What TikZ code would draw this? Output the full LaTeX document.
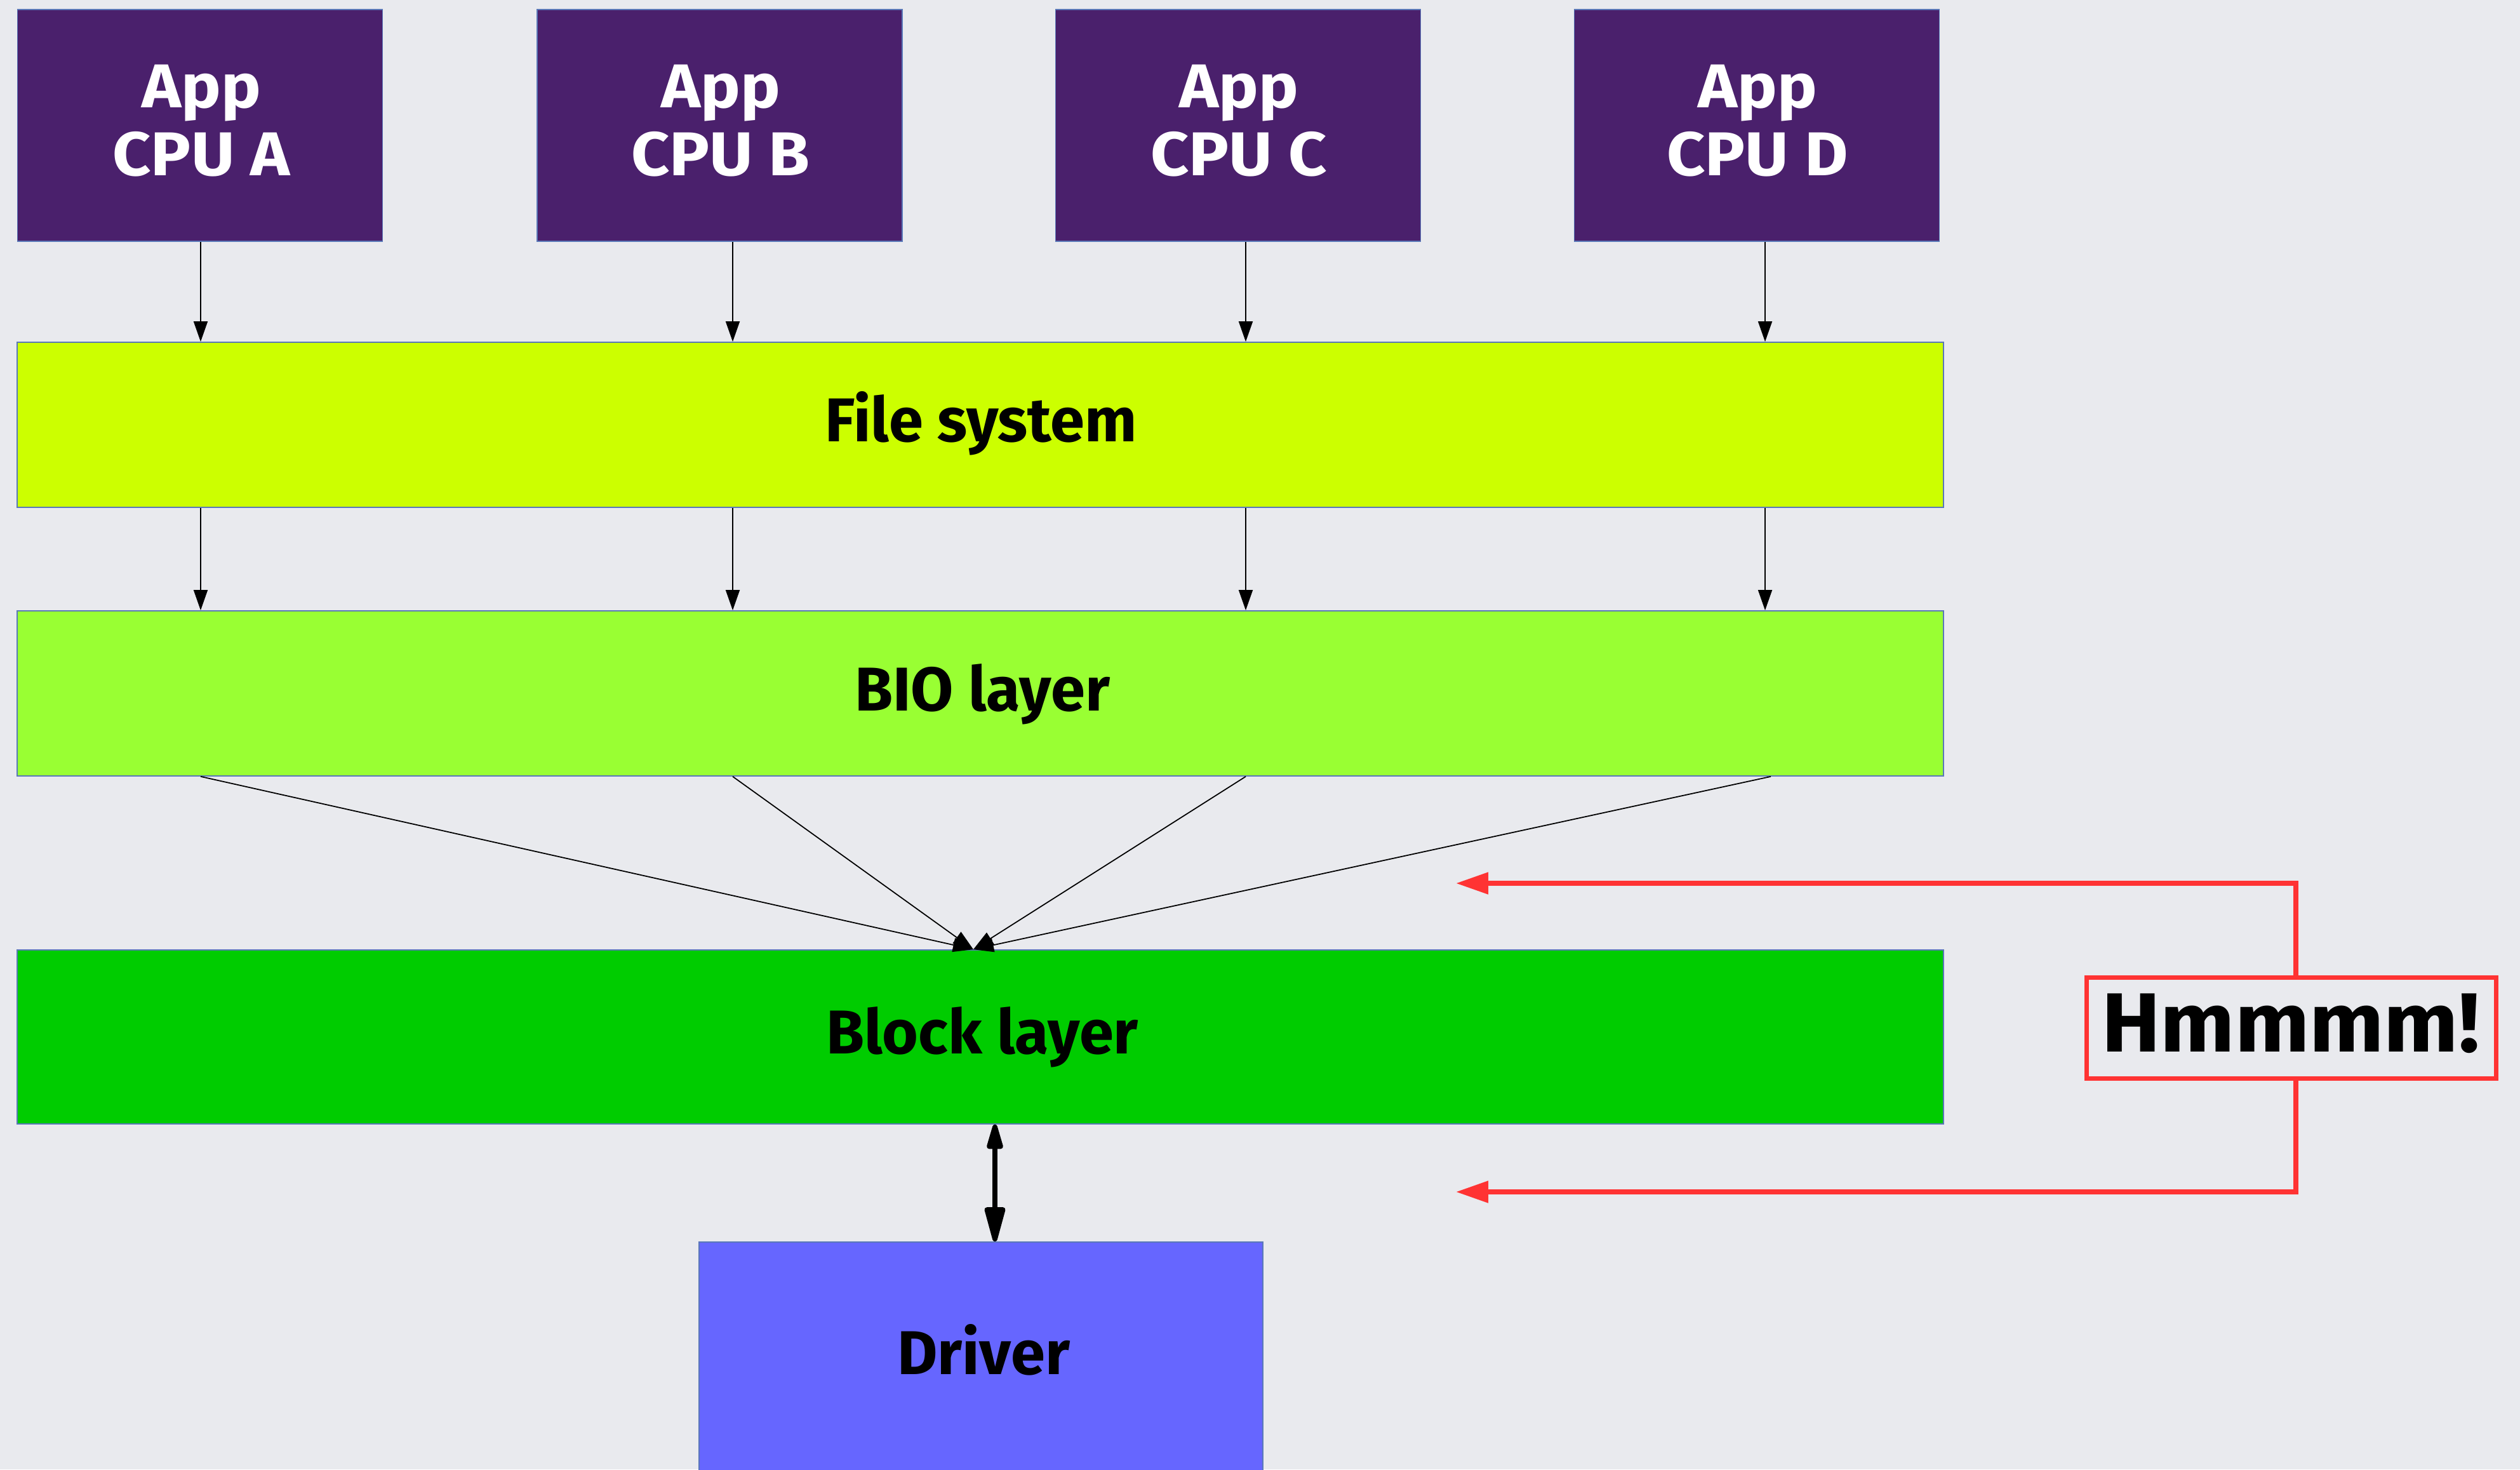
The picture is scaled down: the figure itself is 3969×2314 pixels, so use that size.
\documentclass[tikz,border=0pt]{standalone}
\usepackage{fontspec}
\setmainfont{Fira Sans}
\usetikzlibrary{arrows.meta}
\definecolor{bgcol}{HTML}{E9EAEE}
\definecolor{cpucol}{HTML}{4A206C}
\definecolor{fscol}{HTML}{CCFF00}
\definecolor{biocol}{HTML}{99FF33}
\definecolor{blkcol}{HTML}{00CC00}
\definecolor{drvcol}{HTML}{6666FF}
\definecolor{hmred}{HTML}{FF3333}
\definecolor{edgecol}{HTML}{5A78B8}
\begin{document}
\begin{tikzpicture}[x=0.01cm,y=-0.01cm,
  box/.style={rectangle,draw=edgecol,line width=0.45pt,inner sep=0pt},
  cpubox/.style={box,fill=cpucol,minimum width=5.75cm,minimum height=3.65cm},
  layer/.style={box,minimum width=30.32cm},
  lbl/.style={font=\fontsize{27.7}{30.2}\selectfont\bfseries,align=center,inner sep=0pt},
  cpulbl/.style={lbl,text=white,font=\fontsize{27.7}{30.2}\selectfont\bfseries\addfontfeatures{FakeStretch=1.08}},
  oneline/.style={lbl,text height=0.67cm,text depth=0pt},
  thinarr/.style={draw=black,line width=0.5pt,-{Triangle[length=0.32cm,width=0.22cm]}},
  redarr/.style={draw=hmred,line width=2.2pt,-{Triangle[length=0.51cm,width=0.33cm]}},
  dblarr/.style={draw=black,line width=2.2pt,{Triangle[round,length=0.5cm,width=0.26cm]}-{Triangle[round,length=0.66cm,width=0.33cm]}}]
\fill[bgcol] (0,0) rectangle (3969,2314);
\useasboundingbox (0,0) rectangle (3969,2314);
\clip (0,0) rectangle (3969,2314);

% column coordinates
\coordinate (xa) at (316,0);
\coordinate (xb) at (1154,0);
\coordinate (xc) at (1962,0);
\coordinate (xd) at (2780,0);
\coordinate (xd2) at (2789,0);
\coordinate (xdrv) at (1567,0);

% CPU boxes
\node[cpubox] (cpuA) at (315,197.5) {};
\node[cpubox] (cpuB) at (1133.5,197.5) {};
\node[cpubox] (cpuC) at (1950,197.5) {};
\node[cpubox] (cpuD) at (2767,197.5) {};
\node[cpulbl] (cpuAt) at (317,190) {App\\CPU A};
\node[cpulbl] (cpuBt) at (1135,190) {App\\CPU B};
\node[cpulbl] (cpuCt) at (1951,190) {App\\CPU C};
\node[cpulbl] (cpuDt) at (2768,190) {App\\CPU D};

% layers
\node[layer,fill=fscol,minimum height=2.6cm] (fs) at (1544,669) {};
\node[oneline] (fst) at (1545,662) {File system};
\node[layer,fill=biocol,minimum height=2.6cm] (bio) at (1544,1092) {};
\node[oneline] (biot) at (1547,1086) {BIO layer};
\node[layer,fill=blkcol,minimum height=2.74cm] (blk) at (1544,1633) {};
\node[oneline] (blkt) at (1547,1626) {Block layer};
\node[box,fill=drvcol,minimum width=8.88cm,minimum height=3.74cm] (drv) at (1545,2143) {};
\node[oneline] (drvt) at (1549,2131) {Driver};

% Hmmmm box
\node[rectangle,draw=hmred,line width=2.1pt,inner sep=0pt,minimum width=6.45cm,minimum height=1.59cm] (hm) at (3609,1619) {};
\node[lbl,font=\fontsize{37.6}{40}\selectfont\bfseries\addfontfeatures{FakeStretch=1.05},text height=0.91cm,text depth=0pt] (hmt) at (3608,1610.5) {Hmmmm!};

% CPU -> File system
\draw[thinarr] (cpuA.south -| xa) -- (fs.north -| xa);
\draw[thinarr] (cpuB.south -| xb) -- (fs.north -| xb);
\draw[thinarr] (cpuC.south -| xc) -- (fs.north -| xc);
\draw[thinarr] (cpuD.south -| xd) -- (fs.north -| xd);

% File system -> BIO
\draw[thinarr] (fs.south -| xa) -- (bio.north -| xa);
\draw[thinarr] (fs.south -| xb) -- (bio.north -| xb);
\draw[thinarr] (fs.south -| xc) -- (bio.north -| xc);
\draw[thinarr] (fs.south -| xd) -- (bio.north -| xd);

% BIO -> Block (converging)
\draw[thinarr] (bio.south -| xa) -- ([xshift=-0.11cm]blk.north);
\draw[thinarr] (bio.south -| xb) -- ([xshift=-0.11cm]blk.north);
\draw[thinarr] (bio.south -| xc) -- ([xshift=-0.11cm]blk.north);
\draw[thinarr] (bio.south -| xd2) -- ([xshift=-0.11cm]blk.north);

% Block <-> Driver
\draw[dblarr] (blk.south -| xdrv) -- (drv.north -| xdrv);

% Hmmmm arrows
\coordinate (rtop) at (2293,1391);
\coordinate (rbot) at (2293,1877);
\draw[redarr] ([xshift=0.07cm]hm.north) |- (rtop);
\draw[redarr] ([xshift=0.07cm]hm.south) |- (rbot);
\end{tikzpicture}
\end{document}
